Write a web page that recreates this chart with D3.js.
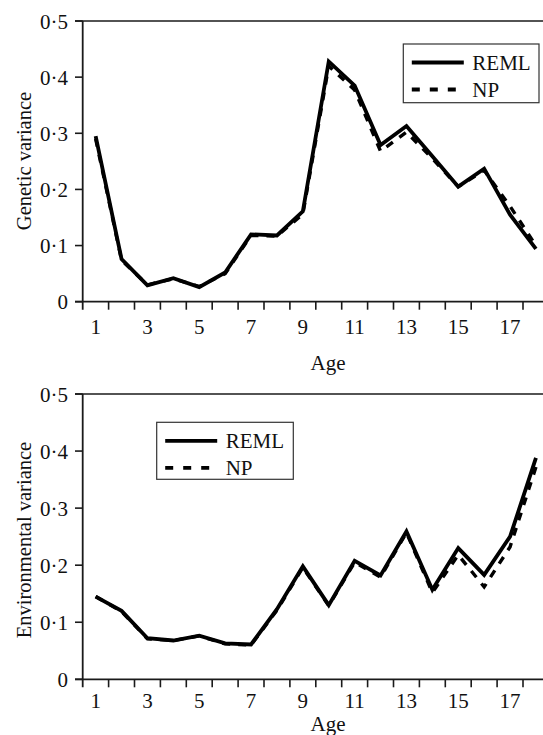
<!DOCTYPE html>
<html><head><meta charset="utf-8">
<script src="https://cdn.jsdelivr.net/npm/d3@7"></script>
<style>body{margin:0;background:#fff}svg{display:block}</style>
</head><body><svg id="c" width="543" height="735" font-family="'Liberation Serif', 'Times New Roman', Times, 'DejaVu Serif', serif"></svg>
<script>
const ages = d3.range(1, 19);
const ageTickLabels = [1, 3, 5, 7, 9, 11, 13, 15, 17];
const yTicks = [0, 0.1, 0.2, 0.3, 0.4, 0.5];
const seriesNames = ["REML", "NP"];
const geneticREML = [0.295, 0.076, 0.029, 0.042, 0.026, 0.052, 0.120, 0.118, 0.161, 0.428, 0.385, 0.279, 0.313, 0.259, 0.205, 0.237, 0.155, 0.094];
const geneticNP   = [0.290, 0.074, 0.030, 0.041, 0.027, 0.050, 0.118, 0.117, 0.156, 0.420, 0.377, 0.268, 0.302, 0.255, 0.205, 0.234, 0.170, 0.100];
const envREML = [0.145, 0.120, 0.072, 0.068, 0.0765, 0.063, 0.061, 0.123, 0.198, 0.130, 0.2075, 0.182, 0.259, 0.157, 0.230, 0.183, 0.250, 0.388];
const envNP   = [0.145, 0.119, 0.071, 0.068, 0.076, 0.062, 0.060, 0.121, 0.196, 0.129, 0.205, 0.179, 0.257, 0.152, 0.218, 0.162, 0.232, 0.372];

const svg = d3.select("#c");
const x = d3.scaleBand().domain(ages).range([82.7, 548.9]).padding(0);

function panel(cfg) {
  const y = d3.scaleLinear().domain([0, 0.5]).range([cfg.bottom, cfg.top]);
  const g = svg.append("g");
  const ax = "#1a1a1a";
  const tc = "#111";
  g.append("line").attr("x1", 75).attr("x2", 543).attr("y1", y(0.5)).attr("y2", y(0.5)).attr("stroke", ax).attr("stroke-width", 1.6);
  g.append("line").attr("x1", 75).attr("x2", 543).attr("y1", y(0)).attr("y2", y(0)).attr("stroke", ax).attr("stroke-width", 1.8);
  g.append("line").attr("x1", x(1)).attr("x2", x(1)).attr("y1", y(0.5)).attr("y2", y(0) + 8).attr("stroke", ax).attr("stroke-width", 1.8);
  g.selectAll(".yt").data(yTicks).join("line").attr("x1", 75).attr("x2", x(1)).attr("y1", d => y(d)).attr("y2", d => y(d)).attr("stroke", ax).attr("stroke-width", 1.6);
  g.selectAll(".yl").data(yTicks).join("text").attr("x", 68).attr("y", d => y(d)).attr("dy", "0.36em").attr("text-anchor", "end").attr("font-size", 21).attr("fill", tc)
    .text(d => d === 0 ? "0" : d3.format(".1f")(d).replace(".", "\u00B7"));
  g.selectAll(".xt").data(ages.slice(1)).join("line").attr("x1", d => x(d)).attr("x2", d => x(d)).attr("y1", y(0)).attr("y2", y(0) + 8).attr("stroke", ax).attr("stroke-width", 1.6);
  g.selectAll(".xl").data(ageTickLabels).join("text").attr("x", d => x(d) + x.bandwidth() / 2).attr("y", cfg.tickBase).attr("text-anchor", "middle").attr("font-size", 21).attr("fill", tc).text(d => d);
  g.append("text").attr("x", 328).attr("y", cfg.ageBase).attr("text-anchor", "middle").attr("font-size", 21).attr("fill", tc).text("Age");
  g.append("text").attr("transform", `translate(${cfg.titleX},${cfg.titleY}) rotate(-90)`).attr("text-anchor", "middle").attr("font-size", 20.5).attr("fill", tc).text(cfg.title);

  const line = d3.line().x((d, i) => x(ages[i]) + x.bandwidth() / 2).y(d => y(d));
  g.append("path").attr("d", line(cfg.np)).attr("fill", "none").attr("stroke", "#000").attr("stroke-width", 3.4).attr("stroke-dasharray", "8,8");
  g.append("path").attr("d", line(cfg.reml)).attr("fill", "none").attr("stroke", "#000").attr("stroke-width", 3.8).attr("stroke-linejoin", "miter");

  const L = cfg.legend;
  const lg = g.append("g");
  lg.append("rect").attr("x", L.x).attr("y", L.y).attr("width", L.w).attr("height", L.h).attr("fill", "#fff").attr("stroke", "#333").attr("stroke-width", 1.2);
  seriesNames.forEach((s, i) => {
    const ly = L.y + 18.5 + i * 27;
    lg.append("line").attr("x1", L.x + 8.5).attr("x2", L.x + 60.5).attr("y1", ly).attr("y2", ly).attr("stroke", "#000").attr("stroke-width", 3.8)
      .attr("stroke-dasharray", i === 1 ? "8,10" : null);
    lg.append("text").attr("x", L.x + 69).attr("y", ly).attr("dy", "0.35em").attr("font-size", 21).attr("fill", tc).text(s);
  });
}

panel({top: 21, bottom: 301.7, tickBase: 334, ageBase: 370, titleX: 31, titleY: 161, title: "Genetic variance",
  reml: geneticREML, np: geneticNP, legend: {x: 403.3, y: 44, w: 135.7, h: 58.7}});
panel({top: 394, bottom: 679.3, tickBase: 708, ageBase: 731, titleX: 31, titleY: 540, title: "Environmental variance",
  reml: envREML, np: envNP, legend: {x: 156.7, y: 422.3, w: 136.6, h: 57}});
</script></body></html>
